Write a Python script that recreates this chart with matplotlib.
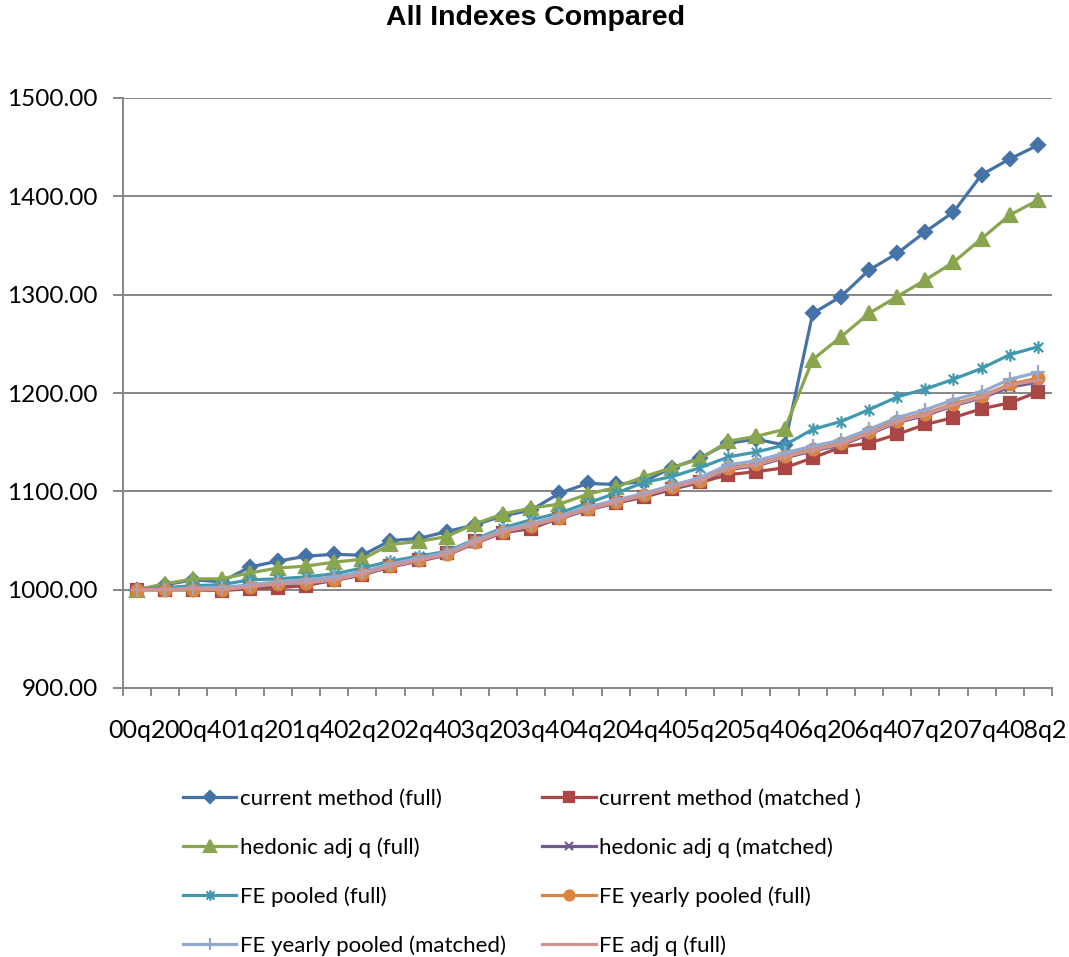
import matplotlib
matplotlib.use("Agg")
import matplotlib.pyplot as plt
from matplotlib.path import Path
from matplotlib.ticker import FixedLocator, FuncFormatter

# quarterly index values, 2000q2 .. 2008q2
quarters = ["00q2", "00q3", "00q4", "01q1", "01q2", "01q3", "01q4", "02q1", "02q2",
            "02q3", "02q4", "03q1", "03q2", "03q3", "03q4", "04q1", "04q2", "04q3",
            "04q4", "05q1", "05q2", "05q3", "05q4", "06q1", "06q2", "06q3", "06q4",
            "07q1", "07q2", "07q3", "07q4", "08q1", "08q2"]

current_full = [1000, 1005, 1010, 1008, 1023, 1029, 1034, 1036, 1035, 1050, 1052, 1059,
                1066, 1075, 1081, 1098, 1108, 1107, 1110, 1124, 1134, 1149, 1153, 1147,
                1281, 1298, 1325, 1342, 1364, 1384, 1422, 1438, 1452]
current_matched = [1000, 1000, 1000, 999, 1001, 1002, 1004, 1010, 1015, 1024, 1030, 1037,
                   1049, 1058, 1062, 1073, 1082, 1088, 1094, 1102, 1109, 1117, 1120, 1124,
                   1134, 1145, 1149, 1158, 1168, 1175, 1184, 1190, 1201]
hedonic_full = [1000, 1006, 1011, 1011, 1017, 1022, 1024, 1028, 1031, 1046, 1049, 1054,
                1067, 1077, 1083, 1087, 1097, 1104, 1115, 1124, 1133, 1151, 1156, 1163,
                1234, 1257, 1281, 1298, 1315, 1333, 1357, 1381, 1396]
hedonic_matched = [1000, 1000, 1000, 1000, 1002, 1005, 1006, 1009, 1015, 1023, 1029, 1035,
                   1047, 1058, 1064, 1072, 1081, 1088, 1095, 1103, 1110, 1122, 1126, 1134,
                   1141, 1147, 1158, 1170, 1177, 1187, 1195, 1206, 1211]
fe_pooled_full = [1000, 1002, 1004, 1005, 1010, 1011, 1013, 1016, 1022, 1029, 1034, 1039,
                  1051, 1063, 1071, 1078, 1088, 1098, 1109, 1115, 1124, 1135, 1140, 1147,
                  1163, 1171, 1183, 1196, 1204, 1214, 1225, 1239, 1247]
fe_yearly_full = [1000, 1000, 1000, 1000, 1003, 1006, 1007, 1010, 1016, 1024, 1030, 1036,
                  1048, 1059, 1065, 1073, 1082, 1089, 1096, 1104, 1111, 1124, 1128, 1136,
                  1143, 1149, 1160, 1172, 1179, 1189, 1197, 1209, 1215]
fe_yearly_matched = [1000, 1000, 1002, 1002, 1005, 1008, 1010, 1013, 1018, 1026, 1032, 1038,
                     1050, 1061, 1067, 1075, 1084, 1091, 1098, 1106, 1114, 1127, 1131, 1139,
                     1146, 1152, 1163, 1175, 1183, 1193, 1201, 1214, 1221]
fe_adjq_full = [1000, 1000, 1001, 1000, 1003, 1006, 1007, 1010, 1016, 1024, 1030, 1036,
                1048, 1059, 1065, 1073, 1082, 1089, 1096, 1104, 1111, 1123, 1127, 1135,
                1142, 1148, 1159, 1171, 1178, 1188, 1196, 1208, 1213]

# excel style asterisk: an x with a vertical bar through it
star = Path([(0, -1), (0, 1), (-0.75, -0.75), (0.75, 0.75), (-0.75, 0.75), (0.75, -0.75)],
            [Path.MOVETO, Path.LINETO, Path.MOVETO, Path.LINETO, Path.MOVETO, Path.LINETO])

# (label, values, colour, marker, marker size)
series = [
    ("current method (full)", current_full, "#4572A7", "D", 7.5),
    ("current method (matched )", current_matched, "#AA4643", "s", 8),
    ("hedonic adj q (full)", hedonic_full, "#89A54E", "^", 9.5),
    ("hedonic adj q (matched)", hedonic_matched, "#71588F", "x", 7),
    ("FE pooled (full)", fe_pooled_full, "#4198AF", star, 9),
    ("FE yearly pooled (full)", fe_yearly_full, "#DB843D", "o", 8.5),
    ("FE yearly pooled (matched)", fe_yearly_matched, "#93A9CF", "+", 10),
    ("FE adj q (full)", fe_adjq_full, "#D19392", "_", 7),
]

GRID = "#868686"
LABEL_FONT = "Lato"

fig = plt.figure(figsize=(10.69, 9.57), dpi=100)
ax = fig.add_axes([123 / 1069, 1 - 688 / 957, 929 / 1069, 590 / 957])

x = list(range(len(quarters)))
lines = []
for label, vals, color, marker, ms in series:
    ln, = ax.plot(x, vals, color=color, lw=2.3, marker=marker, markersize=ms,
                  markerfacecolor=color, markeredgecolor=color, markeredgewidth=1.6,
                  label=label, solid_joinstyle="round")
    lines.append(ln)

ax.set_xlim(-0.5, len(quarters) - 0.5)
ax.set_ylim(900, 1500)
ax.set_yticks([900, 1000, 1100, 1200, 1300, 1400, 1500])
ax.yaxis.set_major_formatter(FuncFormatter(lambda v, p: "%.2f" % v))
ax.yaxis.grid(True, color=GRID, lw=1.4)
ax.set_axisbelow(True)

# tick marks between categories, labels on every second quarter
ax.xaxis.set_major_locator(FixedLocator([i - 0.5 for i in range(len(quarters) + 1)]))
ax.xaxis.set_major_formatter(FuncFormatter(lambda v, p: ""))
ax.xaxis.set_minor_locator(FixedLocator(x[::2]))
ax.set_xticklabels(quarters[::2], minor=True)
ax.tick_params(axis="x", which="major", direction="out", length=6, width=1.4, color=GRID)
ax.tick_params(axis="x", which="minor", length=0, pad=22, labelsize=18)
ax.tick_params(axis="y", direction="out", length=7, width=1.4, color=GRID, pad=11,
               labelsize=17.5)
for lab in ax.get_xticklabels(minor=True) + ax.get_yticklabels():
    lab.set_fontfamily(LABEL_FONT)

for side in ("top", "right"):
    ax.spines[side].set_visible(False)
for side in ("left", "bottom"):
    ax.spines[side].set_color(GRID)
    ax.spines[side].set_linewidth(1.4)

fig.text(536 / 1069, 1 - 18 / 957, "All Indexes Compared", ha="center", va="center",
         fontsize=20.5, fontweight="bold", family="Liberation Sans")

# legend fills column by column, so interleave to keep the row order
order = [0, 2, 4, 6, 1, 3, 5, 7]
fig.legend([lines[i] for i in order], [series[i][0] for i in order],
           loc="upper left", bbox_to_anchor=(183 / 1069, 1 - 789 / 957), ncol=2,
           frameon=False, borderpad=0, borderaxespad=0, handlelength=2.4,
           handletextpad=0.15, columnspacing=1.65, labelspacing=1.28,
           prop={"family": LABEL_FONT, "size": 16}, markerscale=0.85)

fig.savefig("out.png", dpi=100, facecolor="white")
